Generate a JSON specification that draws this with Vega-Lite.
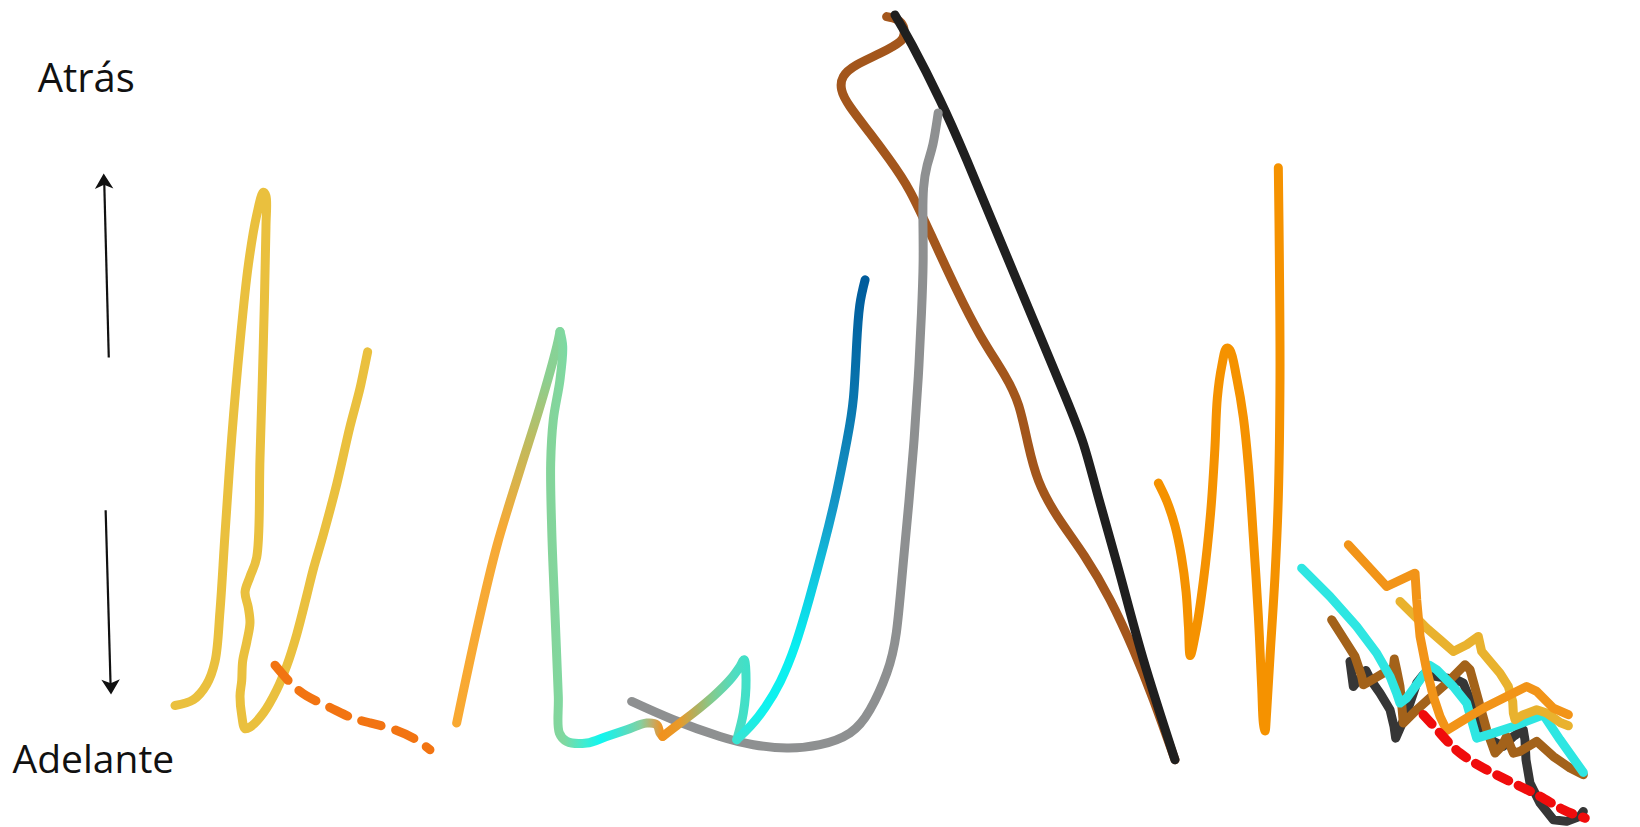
{
  "$schema": "https://vega.github.io/schema/vega-lite/v6.json",
  "width": 1640,
  "height": 827,
  "autosize": {"type": "none"},
  "padding": 0,
  "background": "white",
  "config": {"view": {"stroke": null}},
  "datasets": {
    "pts": [
      {"s":"ye","i":0,"x":167.3,"y":674.8},{"s":"ye","i":1,"x":184.8,"y":669.3},{"s":"ye","i":2,"x":197.6,"y":654.6},{"s":"ye","i":3,"x":205.6,"y":632.5},{"s":"ye","i":4,"x":210.3,"y":584.7},{"s":"ye","i":5,"x":215.1,"y":511.1},{"s":"ye","i":6,"x":221.5,"y":419.2},{"s":"ye","i":7,"x":229.5,"y":327.3},{"s":"ye","i":8,"x":237.4,"y":253.7},{"s":"ye","i":9,"x":245.4,"y":205.9},{"s":"ye","i":10,"x":251.8,"y":183.9},{"s":"ye","i":11,"x":254.3,"y":187.6},{"s":"ye","i":12,"x":254.3,"y":217},{"s":"ye","i":13,"x":251.8,"y":327.3},{"s":"ye","i":14,"x":248.6,"y":437.6},{"s":"ye","i":15,"x":245.4,"y":533.2},{"s":"ye","i":16,"x":239,"y":551.6},{"s":"ye","i":17,"x":234.3,"y":566.3},{"s":"ye","i":18,"x":237.4,"y":581},{"s":"ye","i":19,"x":239,"y":595.7},{"s":"ye","i":20,"x":235.9,"y":614.1},{"s":"ye","i":21,"x":232,"y":632.5},{"s":"ye","i":22,"x":231.1,"y":650.9},{"s":"ye","i":23,"x":229.5,"y":665.6},{"s":"ye","i":24,"x":231.1,"y":684},{"s":"ye","i":25,"x":234.3,"y":697},{"s":"ye","i":26,"x":239,"y":695.5},{"s":"ye","i":27,"x":251.8,"y":682},{"s":"ye","i":28,"x":264.5,"y":660},{"s":"ye","i":29,"x":274.1,"y":637},{"s":"ye","i":30,"x":283.7,"y":606.8},{"s":"ye","i":31,"x":293.2,"y":570},{"s":"ye","i":32,"x":299.6,"y":544.2},{"s":"ye","i":33,"x":309.2,"y":511.1},{"s":"ye","i":34,"x":321.9,"y":463.3},{"s":"ye","i":35,"x":334.6,"y":408.2},{"s":"ye","i":36,"x":344.2,"y":371.4},{"s":"ye","i":37,"x":351.5,"y":336.5},

      {"s":"od","i":0,"x":262.9,"y":636.2},{"s":"od","i":1,"x":277.3,"y":652.7},{"s":"od","i":2,"x":293.2,"y":665.6},{"s":"od","i":3,"x":315.5,"y":676.7},{"s":"od","i":4,"x":334.6,"y":685.8},{"s":"od","i":5,"x":353.8,"y":691.4},{"s":"od","i":6,"x":379.3,"y":698.7},{"s":"od","i":7,"x":398.4,"y":707.9},{"s":"od","i":8,"x":411.1,"y":717.1},

      {"s":"g1","i":0,"x":436.6,"y":691.6},{"s":"g1","i":1,"x":455.8,"y":602.3},{"s":"g1","i":2,"x":474.9,"y":522.7},{"s":"g1","i":3,"x":497.2,"y":449.4},{"s":"g1","i":4,"x":516.3,"y":388.8},{"s":"g1","i":5,"x":532.3,"y":331.5},{"s":"g1","i":6,"x":535.4,"y":317.1},

      {"s":"g2","i":0,"x":535.4,"y":317.1},{"s":"g2","i":1,"x":538,"y":331.5},{"s":"g2","i":2,"x":535.4,"y":363.3},{"s":"g2","i":3,"x":529,"y":401.6},{"s":"g2","i":4,"x":526.5,"y":443},{"s":"g2","i":5,"x":527.5,"y":506.7},{"s":"g2","i":6,"x":530.6,"y":586.4},{"s":"g2","i":7,"x":533.8,"y":666.1},{"s":"g2","i":8,"x":534.8,"y":701.1},{"s":"g2","i":9,"x":541.8,"y":709.1},{"s":"g2","i":10,"x":560.9,"y":710.7},{"s":"g2","i":11,"x":580,"y":704.4},{"s":"g2","i":12,"x":599.2,"y":698},{"s":"g2","i":13,"x":618.3,"y":691.6},{"s":"g2","i":14,"x":627.9,"y":693.2},{"s":"g2","i":15,"x":631.1,"y":701.1},{"s":"g2","i":16,"x":633.6,"y":704.4},

      {"s":"g3","i":0,"x":633.6,"y":704.4},{"s":"g3","i":1,"x":643.8,"y":696.4},{"s":"g3","i":2,"x":662.9,"y":682},{"s":"g3","i":3,"x":682,"y":666.1},{"s":"g3","i":4,"x":698,"y":650.2},{"s":"g3","i":5,"x":707.5,"y":637.4},{"s":"g3","i":6,"x":711.4,"y":631},{"s":"g3","i":7,"x":713.3,"y":650.2},{"s":"g3","i":8,"x":710.7,"y":682},{"s":"g3","i":9,"x":704.4,"y":707.5},

      {"s":"g4","i":0,"x":704.4,"y":707.5},{"s":"g4","i":1,"x":718,"y":694},{"s":"g4","i":2,"x":732,"y":676},{"s":"g4","i":3,"x":746,"y":652},{"s":"g4","i":4,"x":760,"y":618},{"s":"g4","i":5,"x":774,"y":572},{"s":"g4","i":6,"x":788,"y":520},{"s":"g4","i":7,"x":800,"y":470},{"s":"g4","i":8,"x":810,"y":420},{"s":"g4","i":9,"x":816,"y":380},{"s":"g4","i":10,"x":819,"y":330},{"s":"g4","i":11,"x":822,"y":292},{"s":"g4","i":12,"x":827.1,"y":267.7},

      {"s":"gr","i":0,"x":603.9,"y":670.9},{"s":"gr","i":1,"x":643.8,"y":688.4},{"s":"gr","i":2,"x":688.4,"y":704.4},{"s":"gr","i":3,"x":720.3,"y":712.3},{"s":"gr","i":4,"x":752.2,"y":715.5},{"s":"gr","i":5,"x":784,"y":712.3},{"s":"gr","i":6,"x":812.7,"y":701.1},{"s":"gr","i":7,"x":831.8,"y":678.9},{"s":"gr","i":8,"x":847.8,"y":643.8},{"s":"gr","i":9,"x":857,"y":605},{"s":"gr","i":10,"x":863,"y":545},{"s":"gr","i":11,"x":869,"y":480},{"s":"gr","i":12,"x":874,"y":420},{"s":"gr","i":13,"x":878,"y":360},{"s":"gr","i":14,"x":881,"y":300},{"s":"gr","i":15,"x":882.6,"y":250},{"s":"gr","i":16,"x":882.4,"y":210},{"s":"gr","i":17,"x":883,"y":180},{"s":"gr","i":18,"x":886.5,"y":158},{"s":"gr","i":19,"x":892,"y":138},{"s":"gr","i":20,"x":897,"y":108},

      {"s":"br","i":0,"x":847.7,"y":15.9},{"s":"br","i":1,"x":858,"y":19},{"s":"br","i":2,"x":863.7,"y":25.5},{"s":"br","i":3,"x":864.5,"y":32},{"s":"br","i":4,"x":860.5,"y":39.8},{"s":"br","i":5,"x":841.4,"y":51},{"s":"br","i":6,"x":819.1,"y":62.1},{"s":"br","i":7,"x":806.3,"y":73.3},{"s":"br","i":8,"x":804.7,"y":86},{"s":"br","i":9,"x":812.7,"y":102},{"s":"br","i":10,"x":831.8,"y":127.5},{"s":"br","i":11,"x":850,"y":152},{"s":"br","i":12,"x":870,"y":183},{"s":"br","i":13,"x":892.4,"y":229.5},{"s":"br","i":14,"x":914.7,"y":277.3},{"s":"br","i":15,"x":937,"y":320.3},{"s":"br","i":16,"x":960,"y":358},{"s":"br","i":17,"x":974,"y":388},{"s":"br","i":18,"x":983,"y":425},{"s":"br","i":19,"x":993,"y":460},{"s":"br","i":20,"x":1011,"y":494},{"s":"br","i":21,"x":1037,"y":532},{"s":"br","i":22,"x":1061.3,"y":573.7},{"s":"br","i":23,"x":1083.6,"y":621.5},{"s":"br","i":24,"x":1102.7,"y":669.3},{"s":"br","i":25,"x":1123.4,"y":726.7},

      {"s":"bk","i":0,"x":855.7,"y":14.3},{"s":"bk","i":1,"x":872,"y":43},{"s":"bk","i":2,"x":898.7,"y":95.6},{"s":"bk","i":3,"x":924.3,"y":153},{"s":"bk","i":4,"x":956.1,"y":229.5},{"s":"bk","i":5,"x":988,"y":306},{"s":"bk","i":6,"x":1018,"y":378},{"s":"bk","i":7,"x":1036,"y":425},{"s":"bk","i":8,"x":1050,"y":475},{"s":"bk","i":9,"x":1070.9,"y":549.8},{"s":"bk","i":10,"x":1093.2,"y":631},{"s":"bk","i":11,"x":1123.4,"y":726.7},

      {"s":"oz","i":0,"x":1107.5,"y":462.1},{"s":"oz","i":1,"x":1115.5,"y":479.1},{"s":"oz","i":2,"x":1123.4,"y":503},{"s":"oz","i":3,"x":1129.5,"y":532},{"s":"oz","i":4,"x":1134,"y":566},{"s":"oz","i":5,"x":1136.3,"y":600},{"s":"oz","i":6,"x":1138,"y":627},{"s":"oz","i":7,"x":1143,"y":606},{"s":"oz","i":8,"x":1150.5,"y":556},{"s":"oz","i":9,"x":1157.5,"y":490},{"s":"oz","i":10,"x":1161.5,"y":430},{"s":"oz","i":11,"x":1163.9,"y":380.5},{"s":"oz","i":12,"x":1168.1,"y":350.1},{"s":"oz","i":13,"x":1172.8,"y":333},{"s":"oz","i":14,"x":1176,"y":334.9},{"s":"oz","i":15,"x":1182.4,"y":361.5},{"s":"oz","i":16,"x":1188.8,"y":399.5},{"s":"oz","i":17,"x":1193.5,"y":445},{"s":"oz","i":18,"x":1198.3,"y":513.3},{"s":"oz","i":19,"x":1203.1,"y":589.2},{"s":"oz","i":20,"x":1206.3,"y":657.4},{"s":"oz","i":21,"x":1207.9,"y":691.6},{"s":"oz","i":22,"x":1209.5,"y":699.2},{"s":"oz","i":23,"x":1211.1,"y":680.2},{"s":"oz","i":24,"x":1214.3,"y":627.1},{"s":"oz","i":25,"x":1219,"y":551.2},{"s":"oz","i":26,"x":1222.2,"y":475.3},{"s":"oz","i":27,"x":1223.8,"y":361.5},{"s":"oz","i":28,"x":1223.2,"y":247.6},{"s":"oz","i":29,"x":1222.2,"y":160.4},

      {"s":"cbk","i":0,"x":1290.7,"y":632.6},{"s":"cbk","i":1,"x":1293.9,"y":656.6},{"s":"cbk","i":2,"x":1306,"y":641.3},{"s":"cbk","i":3,"x":1310.5,"y":650.2},{"s":"cbk","i":4,"x":1319.4,"y":662.9},{"s":"cbk","i":5,"x":1329,"y":678.9},{"s":"cbk","i":6,"x":1332.8,"y":694.8},{"s":"cbk","i":7,"x":1334.4,"y":706},{"s":"cbk","i":8,"x":1344.9,"y":682},{"s":"cbk","i":9,"x":1354.5,"y":653.4},{"s":"cbk","i":10,"x":1360.8,"y":645.4},{"s":"cbk","i":11,"x":1373.6,"y":647},{"s":"cbk","i":12,"x":1392.7,"y":650.2},{"s":"cbk","i":13,"x":1399.1,"y":653.4},{"s":"cbk","i":14,"x":1405.5,"y":669.3},{"s":"cbk","i":15,"x":1415,"y":694.8},{"s":"cbk","i":16,"x":1427.8,"y":709.1},{"s":"cbk","i":17,"x":1437.3,"y":713.9},{"s":"cbk","i":18,"x":1446.9,"y":704.4},{"s":"cbk","i":19,"x":1456.4,"y":698},{"s":"cbk","i":20,"x":1458,"y":707.5},{"s":"cbk","i":21,"x":1459,"y":726.7},{"s":"cbk","i":22,"x":1462.8,"y":749},{"s":"cbk","i":23,"x":1472.4,"y":768.1},{"s":"cbk","i":24,"x":1485.1,"y":784},{"s":"cbk","i":25,"x":1497.9,"y":785.6},{"s":"cbk","i":26,"x":1510.6,"y":780.8},{"s":"cbk","i":27,"x":1513.8,"y":776.1},

      {"s":"cbr","i":0,"x":1273.2,"y":592.8},{"s":"cbr","i":1,"x":1284.4,"y":610.3},{"s":"cbr","i":2,"x":1295.5,"y":627.9},{"s":"cbr","i":3,"x":1301.9,"y":647},{"s":"cbr","i":4,"x":1303.5,"y":655},{"s":"cbr","i":5,"x":1313,"y":649.5},{"s":"cbr","i":6,"x":1322.6,"y":643.8},{"s":"cbr","i":7,"x":1332.2,"y":639},{"s":"cbr","i":8,"x":1333.1,"y":630.4},{"s":"cbr","i":9,"x":1335.3,"y":640.6},{"s":"cbr","i":10,"x":1338.5,"y":656.6},{"s":"cbr","i":11,"x":1340.1,"y":672.5},{"s":"cbr","i":12,"x":1341.7,"y":691.6},{"s":"cbr","i":13,"x":1354.5,"y":678.9},{"s":"cbr","i":14,"x":1368.8,"y":666.1},{"s":"cbr","i":15,"x":1383.2,"y":653.4},{"s":"cbr","i":16,"x":1392.7,"y":643.8},{"s":"cbr","i":17,"x":1400.7,"y":635.8},{"s":"cbr","i":18,"x":1405.5,"y":640.6},{"s":"cbr","i":19,"x":1413.4,"y":669.3},{"s":"cbr","i":20,"x":1421.4,"y":698},{"s":"cbr","i":21,"x":1429.4,"y":720.3},{"s":"cbr","i":22,"x":1435.7,"y":713.9},{"s":"cbr","i":23,"x":1440.5,"y":704.4},{"s":"cbr","i":24,"x":1446.9,"y":720.3},{"s":"cbr","i":25,"x":1453.3,"y":718.7},{"s":"cbr","i":26,"x":1469.2,"y":709.1},{"s":"cbr","i":27,"x":1485.1,"y":723.5},{"s":"cbr","i":28,"x":1501.1,"y":734.6},{"s":"cbr","i":29,"x":1513.8,"y":741},

      {"s":"ccy","i":0,"x":1244.5,"y":543.4},{"s":"ccy","i":1,"x":1271.6,"y":570.5},{"s":"ccy","i":2,"x":1297.1,"y":599.2},{"s":"ccy","i":3,"x":1316.2,"y":624.7},{"s":"ccy","i":4,"x":1329,"y":647},{"s":"ccy","i":5,"x":1335.3,"y":662.9},{"s":"ccy","i":6,"x":1338.5,"y":672.5},{"s":"ccy","i":7,"x":1344.9,"y":667.7},{"s":"ccy","i":8,"x":1357.7,"y":650.2},{"s":"ccy","i":9,"x":1367.2,"y":636.5},{"s":"ccy","i":10,"x":1373.6,"y":640.6},{"s":"ccy","i":11,"x":1389.5,"y":656.6},{"s":"ccy","i":12,"x":1402.3,"y":672.5},{"s":"ccy","i":13,"x":1411.8,"y":706},{"s":"ccy","i":14,"x":1427.8,"y":701.2},{"s":"ccy","i":15,"x":1446.9,"y":694.8},{"s":"ccy","i":16,"x":1475.6,"y":683.6},{"s":"ccy","i":17,"x":1491.5,"y":707.5},{"s":"ccy","i":18,"x":1513.8,"y":738.8},

      {"s":"cye","i":0,"x":1338.5,"y":575.3},{"s":"cye","i":1,"x":1351.3,"y":588},{"s":"cye","i":2,"x":1364,"y":600.8},{"s":"cye","i":3,"x":1376.8,"y":611.9},{"s":"cye","i":4,"x":1389.5,"y":623.1},{"s":"cye","i":5,"x":1402.3,"y":616.7},{"s":"cye","i":6,"x":1413.4,"y":608.7},{"s":"cye","i":7,"x":1416.6,"y":623.1},{"s":"cye","i":8,"x":1424.6,"y":632.6},{"s":"cye","i":9,"x":1434.1,"y":643.8},{"s":"cye","i":10,"x":1442.1,"y":656.6},{"s":"cye","i":11,"x":1446.3,"y":670.9},{"s":"cye","i":12,"x":1446.9,"y":682},{"s":"cye","i":13,"x":1448.5,"y":688.4},{"s":"cye","i":14,"x":1456.5,"y":683.6},{"s":"cye","i":15,"x":1469.2,"y":678.9},{"s":"cye","i":16,"x":1478.8,"y":682},{"s":"cye","i":17,"x":1491.5,"y":691},{"s":"cye","i":18,"x":1499.5,"y":694.2},

      {"s":"cor","i":0,"x":1289.1,"y":521.1},{"s":"cor","i":1,"x":1306.7,"y":540.2},{"s":"cor","i":2,"x":1325.8,"y":561},{"s":"cor","i":3,"x":1352.9,"y":548.2},{"s":"cor","i":4,"x":1354.5,"y":573.7},{"s":"cor","i":5,"x":1357.7,"y":608.7},{"s":"cor","i":6,"x":1364,"y":640.6},{"s":"cor","i":7,"x":1370.4,"y":666.1},{"s":"cor","i":8,"x":1376.8,"y":685.2},{"s":"cor","i":9,"x":1383.2,"y":698.6},{"s":"cor","i":10,"x":1402.3,"y":686.8},{"s":"cor","i":11,"x":1421.4,"y":675.7},{"s":"cor","i":12,"x":1440.5,"y":666.1},{"s":"cor","i":13,"x":1459.6,"y":656.6},{"s":"cor","i":14,"x":1469.2,"y":661.3},{"s":"cor","i":15,"x":1485.1,"y":677.3},{"s":"cor","i":16,"x":1499.5,"y":683.6},

      {"s":"crd","i":0,"x":1360.8,"y":683.6},{"s":"crd","i":1,"x":1376.8,"y":701.2},{"s":"crd","i":2,"x":1395.9,"y":720.3},{"s":"crd","i":3,"x":1421.4,"y":736.2},{"s":"crd","i":4,"x":1446.9,"y":749},{"s":"crd","i":5,"x":1472.4,"y":761.7},{"s":"crd","i":6,"x":1494.7,"y":774.5},{"s":"crd","i":7,"x":1515.4,"y":782.4}
    ],
    "arrows": [
      {"x":104,"y":342,"x2":99.6,"y2":172},
      {"x":101,"y":488,"x2":105.8,"y2":658}
    ],
    "headsUp": [{"x":99.4,"y":175.3}],
    "headsDown": [{"x":105.9,"y":655}],
    "labelTop": [{"t":"Atrás","x":36,"y":88}],
    "labelBottom": [{"t":"Adelante","x":12,"y":739}]
  },
  "data": {"name": "pts"},
  "encoding": {
    "x": {"field": "x", "type": "quantitative", "scale": {"domain": [0, 1568], "nice": false, "zero": false}, "axis": null},
    "y": {"field": "y", "type": "quantitative", "scale": {"domain": [0, 791], "reverse": true, "nice": false, "zero": false}, "axis": null}
  },
  "layer": [
    {"transform":[{"filter":"datum.s=='br'"}],"mark":{"type":"line","interpolate":"natural","stroke":"#a3561c","strokeWidth":9,"strokeCap":"round","strokeJoin":"round"},"encoding":{"order":{"field":"i","type":"quantitative"}}},
    {"transform":[{"filter":"datum.s=='bk'"}],"mark":{"type":"line","interpolate":"natural","stroke":"#1f1f1f","strokeWidth":9,"strokeCap":"round","strokeJoin":"round"},"encoding":{"order":{"field":"i","type":"quantitative"}}},
    {"transform":[{"filter":"datum.s=='gr'"}],"mark":{"type":"line","interpolate":"natural","stroke":"#8e9091","strokeWidth":9,"strokeCap":"round","strokeJoin":"round"},"encoding":{"order":{"field":"i","type":"quantitative"}}},
    {"transform":[{"filter":"datum.s=='ye'"}],"mark":{"type":"line","interpolate":"catmull-rom","stroke":"#eac03e","strokeWidth":9,"strokeCap":"round","strokeJoin":"round"},"encoding":{"order":{"field":"i","type":"quantitative"}}},
    {"transform":[{"filter":"datum.s=='od'"}],"mark":{"type":"line","interpolate":"natural","stroke":"#f27412","strokeWidth":9,"strokeCap":"round","strokeDash":[20,15]},"encoding":{"order":{"field":"i","type":"quantitative"}}},
    {"transform":[{"filter":"datum.s=='g1'"}],"mark":{"type":"line","interpolate":"catmull-rom","strokeWidth":9,"strokeCap":"round","strokeJoin":"round","stroke":{"gradient":"linear","x1":0,"y1":1,"x2":0,"y2":0,"stops":[{"offset":0,"color":"#f9a932"},{"offset":0.5,"color":"#f6aa36"},{"offset":0.7,"color":"#c4b95a"},{"offset":0.88,"color":"#8ccf90"},{"offset":1,"color":"#84d49a"}]}},"encoding":{"order":{"field":"i","type":"quantitative"}}},
    {"transform":[{"filter":"datum.s=='g2'"}],"mark":{"type":"line","interpolate":"catmull-rom","strokeWidth":9,"strokeCap":"round","strokeJoin":"round","stroke":{"gradient":"linear","x1":0,"y1":0,"x2":1,"y2":0,"stops":[{"offset":0,"color":"#84d49a"},{"offset":0.12,"color":"#80d8a0"},{"offset":0.3,"color":"#40ecd0"},{"offset":0.45,"color":"#0ff6f0"},{"offset":0.62,"color":"#40e4d0"},{"offset":0.8,"color":"#84d0a0"},{"offset":0.92,"color":"#c8a860"},{"offset":1,"color":"#f0921e"}]}},"encoding":{"order":{"field":"i","type":"quantitative"}}},
    {"transform":[{"filter":"datum.s=='g3'"}],"mark":{"type":"line","interpolate":"catmull-rom","strokeWidth":9,"strokeCap":"round","strokeJoin":"round","stroke":{"gradient":"linear","x1":0,"y1":0,"x2":1,"y2":0,"stops":[{"offset":0,"color":"#f0921e"},{"offset":0.2,"color":"#e89a2a"},{"offset":0.4,"color":"#b0b060"},{"offset":0.6,"color":"#80cc90"},{"offset":0.85,"color":"#50dcc0"},{"offset":1,"color":"#40e0c8"}]}},"encoding":{"order":{"field":"i","type":"quantitative"}}},
    {"transform":[{"filter":"datum.s=='g4'"}],"mark":{"type":"line","interpolate":"natural","strokeWidth":9,"strokeCap":"round","strokeJoin":"round","stroke":{"gradient":"linear","x1":0,"y1":1,"x2":0,"y2":0,"stops":[{"offset":0,"color":"#38e4d2"},{"offset":0.06,"color":"#10f2ee"},{"offset":0.2,"color":"#08eef0"},{"offset":0.35,"color":"#10c8e0"},{"offset":0.5,"color":"#1598c8"},{"offset":0.72,"color":"#0a78b0"},{"offset":1,"color":"#005c9c"}]}},"encoding":{"order":{"field":"i","type":"quantitative"}}},
    {"transform":[{"filter":"datum.s=='oz'"}],"mark":{"type":"line","interpolate":"catmull-rom","stroke":"#f59200","strokeWidth":9,"strokeCap":"round","strokeJoin":"round"},"encoding":{"order":{"field":"i","type":"quantitative"}}},
    {"transform":[{"filter":"datum.s=='cbk'"}],"mark":{"type":"line","interpolate":"linear","stroke":"#363636","strokeWidth":9,"strokeCap":"round","strokeJoin":"round"},"encoding":{"order":{"field":"i","type":"quantitative"}}},
    {"transform":[{"filter":"datum.s=='cbr'"}],"mark":{"type":"line","interpolate":"linear","stroke":"#a3621a","strokeWidth":9,"strokeCap":"round","strokeJoin":"round"},"encoding":{"order":{"field":"i","type":"quantitative"}}},
    {"transform":[{"filter":"datum.s=='ccy'"}],"mark":{"type":"line","interpolate":"linear","stroke":"#2ee6e2","strokeWidth":9,"strokeCap":"round","strokeJoin":"round"},"encoding":{"order":{"field":"i","type":"quantitative"}}},
    {"transform":[{"filter":"datum.s=='cye'"}],"mark":{"type":"line","interpolate":"linear","stroke":"#e9b22e","strokeWidth":9,"strokeCap":"round","strokeJoin":"round"},"encoding":{"order":{"field":"i","type":"quantitative"}}},
    {"transform":[{"filter":"datum.s=='cor'"}],"mark":{"type":"line","interpolate":"linear","stroke":"#f29418","strokeWidth":9,"strokeCap":"round","strokeJoin":"round"},"encoding":{"order":{"field":"i","type":"quantitative"}}},
    {"transform":[{"filter":"datum.s=='crd'"}],"mark":{"type":"line","interpolate":"natural","stroke":"#f00c0c","strokeWidth":9.5,"strokeCap":"round","strokeDash":[13,11]},"encoding":{"order":{"field":"i","type":"quantitative"}}},
    {"data":{"name":"arrows"},"mark":{"type":"rule","stroke":"#111111","strokeWidth":2.2},"encoding":{"x2":{"field":"x2"},"y2":{"field":"y2"}}},
    {"data":{"name":"headsUp"},"mark":{"type":"point","shape":"M0,-1L0.95,0.55L0,0.15L-0.95,0.55Z","filled":true,"color":"#111111","opacity":1,"size":380,"angle":-1.6},"encoding":{}},
    {"data":{"name":"headsDown"},"mark":{"type":"point","shape":"M0,-1L0.95,0.55L0,0.15L-0.95,0.55Z","filled":true,"color":"#111111","opacity":1,"size":380,"angle":178.4},"encoding":{}},
    {"data":{"name":"labelTop"},"mark":{"type":"text","align":"left","baseline":"alphabetic","font":"Open Sans","fontWeight":500,"fontSize":40,"color":"#111111"},"encoding":{"text":{"field":"t"}}},
    {"data":{"name":"labelBottom"},"mark":{"type":"text","align":"left","baseline":"alphabetic","font":"Open Sans","fontWeight":500,"fontSize":39,"color":"#111111"},"encoding":{"text":{"field":"t"}}}
  ]
}
